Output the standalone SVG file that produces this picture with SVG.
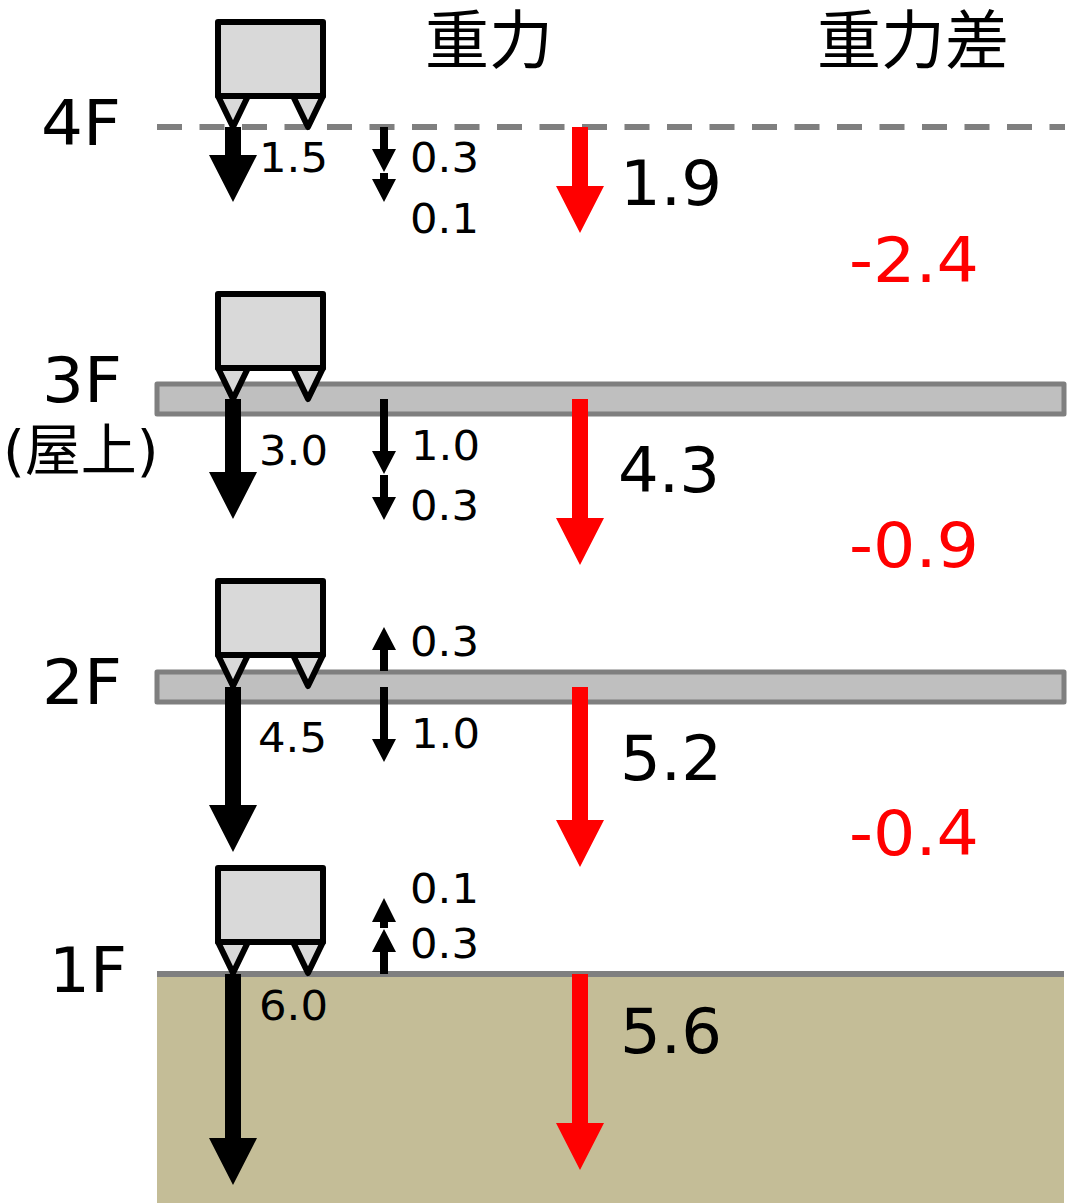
<svg xmlns="http://www.w3.org/2000/svg" width="1076" height="1203" viewBox="0 0 1076 1203">
<defs>
<style>
text{font-family:"DejaVu Sans","Noto Sans CJK JP",sans-serif;fill:#000}
.floor{font-size:63px}
.small{font-size:41px}
.big{font-size:63px}
.diff{font-size:63px;fill:#f00}
.head{font-size:64px;font-family:"Noto Sans CJK JP","DejaVu Sans",sans-serif;font-weight:400}
.body{fill:#d9d9d9;stroke:#000;stroke-width:6;stroke-linejoin:round}
.slab{fill:#bfbfbf;stroke:#7f7f7f;stroke-width:5;stroke-linejoin:round}
.k{fill:#000}.r{fill:#f00}
</style>
<g id="unit">
<path class="body" d="M218 96 L233 127 L248 96 Z"/>
<path class="body" d="M293 96 L308 127 L323 96 Z"/>
<rect class="body" x="218" y="22" width="105" height="74"/>
</g>
</defs>
<rect id="white-bg" width="1076" height="1203" fill="#fff"/>
<g id="ground"><rect x="157" y="974" width="907" height="229" fill="#c4bd97"/><rect x="157" y="971" width="907" height="6" fill="#7f7f7f"/></g>
<g id="floor-4f"><path d="M157 127H1065" stroke="#7f7f7f" stroke-width="6" fill="none" stroke-dasharray="25 17.5"/></g>
<g id="floor-3f"><rect class="slab" x="157" y="384" width="907" height="30"/></g>
<g id="floor-2f"><rect class="slab" x="157" y="672" width="907" height="30"/></g>
<g id="robot-4f"><use href="#unit"/></g>
<g id="robot-3f"><use href="#unit" y="272"/></g>
<g id="robot-2f"><use href="#unit" y="559"/></g>
<g id="robot-1f"><use href="#unit" y="846"/></g>
<g id="connectors">
<polygon class="k" points="225,127 241,127 241,155 257,155 233,202 209,155 225,155"/>
<polygon class="k" points="225,399 241,399 241,472 257,472 233,519 209,472 225,472"/>
<polygon class="k" points="225,687 241,687 241,805 257,805 233,852 209,805 225,805"/>
<polygon class="k" points="225,974 241,974 241,1138 257,1138 233,1185 209,1138 225,1138"/>
<polygon class="r" points="572,127 588,127 588,186 604,186 580,233 556,186 572,186"/>
<polygon class="r" points="572,399 588,399 588,518 604,518 580,565 556,518 572,518"/>
<polygon class="r" points="572,687 588,687 588,820 604,820 580,867 556,820 572,820"/>
<polygon class="r" points="572,974 588,974 588,1123 604,1123 580,1170 556,1123 572,1123"/>
<polygon class="k" points="380,127 388,127 388,149 396,149 384,172 372,149 380,149"/>
<polygon class="k" points="380,173 388,173 388,179 396,179 384,202 372,179 380,179"/>
<polygon class="k" points="380,399 388,399 388,451 396,451 384,474 372,451 380,451"/>
<polygon class="k" points="380,475 388,475 388,497 396,497 384,520 372,497 380,497"/>
<polygon class="k" points="380,671 388,671 388,650 396,650 384,627 372,650 380,650"/>
<polygon class="k" points="380,687 388,687 388,739 396,739 384,762 372,739 380,739"/>
<polygon class="k" points="380,974 388,974 388,952 396,952 384,929 372,952 380,952"/>
<polygon class="k" points="380,928 388,928 388,922 396,922 384,898 372,922 380,922"/>
</g>
<g id="labels">
<text class="head" x="425" y="63">重力</text>
<text class="head" x="817" y="63">重力差</text>
<text class="floor" x="41" y="145" textLength="80" lengthAdjust="spacingAndGlyphs">4F</text>
<text class="floor" x="42" y="402" textLength="80" lengthAdjust="spacingAndGlyphs">3F</text>
<text x="3" y="470" style="font-size:56px">(屋上)</text>
<text class="floor" x="42" y="704" textLength="80" lengthAdjust="spacingAndGlyphs">2F</text>
<text class="floor" x="49" y="992" textLength="78" lengthAdjust="spacingAndGlyphs">1F</text>
<text class="small" x="259" y="172" textLength="69" lengthAdjust="spacingAndGlyphs">1.5</text>
<text class="small" x="259" y="465" textLength="69" lengthAdjust="spacingAndGlyphs">3.0</text>
<text class="small" x="258" y="752" textLength="69" lengthAdjust="spacingAndGlyphs">4.5</text>
<text class="small" x="259" y="1020" textLength="69" lengthAdjust="spacingAndGlyphs">6.0</text>
<text class="small" x="410" y="172" textLength="69" lengthAdjust="spacingAndGlyphs">0.3</text>
<text class="small" x="410" y="233" textLength="69" lengthAdjust="spacingAndGlyphs">0.1</text>
<text class="small" x="411" y="460" textLength="69" lengthAdjust="spacingAndGlyphs">1.0</text>
<text class="small" x="410" y="520" textLength="69" lengthAdjust="spacingAndGlyphs">0.3</text>
<text class="small" x="410" y="656" textLength="69" lengthAdjust="spacingAndGlyphs">0.3</text>
<text class="small" x="411" y="748" textLength="69" lengthAdjust="spacingAndGlyphs">1.0</text>
<text class="small" x="410" y="903" textLength="69" lengthAdjust="spacingAndGlyphs">0.1</text>
<text class="small" x="410" y="958" textLength="69" lengthAdjust="spacingAndGlyphs">0.3</text>
<text class="big" x="620" y="205" textLength="102" lengthAdjust="spacingAndGlyphs">1.9</text>
<text class="big" x="618" y="492" textLength="102" lengthAdjust="spacingAndGlyphs">4.3</text>
<text class="big" x="620" y="780" textLength="102" lengthAdjust="spacingAndGlyphs">5.2</text>
<text class="big" x="620" y="1053" textLength="102" lengthAdjust="spacingAndGlyphs">5.6</text>
<text class="diff" x="849" y="282" textLength="130" lengthAdjust="spacingAndGlyphs">-2.4</text>
<text class="diff" x="849" y="567" textLength="130" lengthAdjust="spacingAndGlyphs">-0.9</text>
<text class="diff" x="849" y="855" textLength="130" lengthAdjust="spacingAndGlyphs">-0.4</text>
</g>
</svg>
